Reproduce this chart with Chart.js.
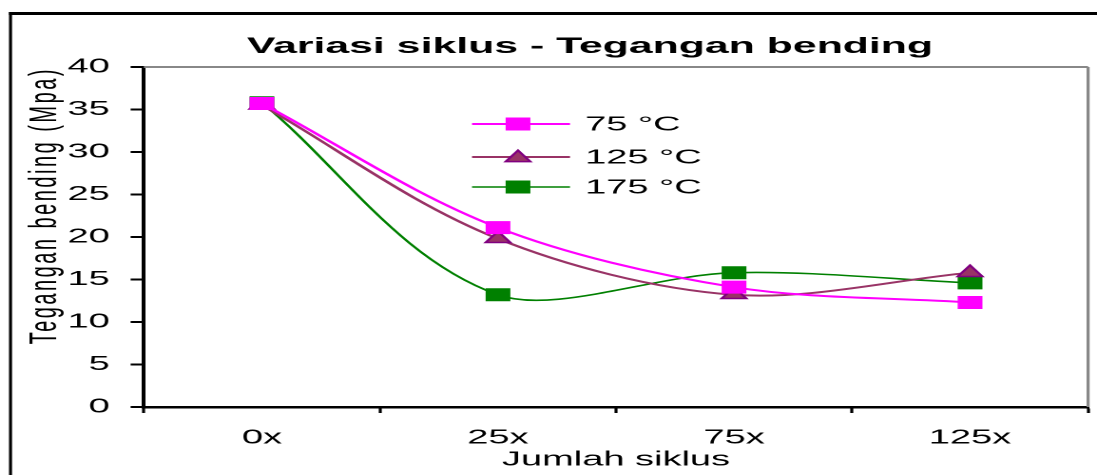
<!DOCTYPE html>
<html><head><meta charset="utf-8">
<script src="https://cdn.jsdelivr.net/npm/chart.js@4.4.1/dist/chart.umd.min.js"></script>
<style>
html,body{margin:0;padding:0;background:#fff;overflow:hidden;width:1097px;height:475px;}
#wrap{position:absolute;left:0;top:0;width:577px;height:475px;transform-origin:0 0;transform:scaleX(1.90121);}
</style></head><body>
<div id="wrap"><canvas id="c" width="577" height="475"></canvas></div>
<script>
// ---- data ----
const categories = ['0x', '25x', '75x', '125x'];
const seriesNames = ['75 °C', '125 °C', '175 °C'];
const values75 = [35.7, 21.1, 14.1, 12.3];
const values125 = [35.5, 19.8, 13.2, 15.8];
const values175 = [35.8, 13.2, 15.8, 14.6];
const yMin = 0, yMax = 40, yStep = 5;
const chartTitle = 'Variasi siklus - Tegangan bending';
const xTitle = 'Jumlah siklus';
const yTitle = 'Tegangan bending (Mpa)';

const SX = 1097 / 577;
const FONT = '"Liberation Sans", Arial, sans-serif';

const frame = {
  id: 'frame',
  beforeDraw(chart) {
    const ctx = chart.ctx;
    ctx.save();
    ctx.fillStyle = '#fff';
    ctx.fillRect(0, 0, chart.width, chart.height);
    ctx.strokeStyle = '#000';
    ctx.lineWidth = 3;
    ctx.beginPath(); ctx.moveTo(9 / SX, 13.5); ctx.lineTo(chart.width + 5, 13.5); ctx.stroke();
    ctx.lineWidth = 1.6;
    ctx.beginPath(); ctx.moveTo(10.5 / SX, 12); ctx.lineTo(10.5 / SX, chart.height + 5); ctx.stroke();
    ctx.fillStyle = '#000';
    ctx.font = 'bold 22.5px ' + FONT;
    ctx.textAlign = 'center';
    ctx.textBaseline = 'alphabetic';
    ctx.fillText(chartTitle, 590 / SX, 53);
    ctx.restore();
    const ys = chart.scales.y;
    if (ys && !ys._wrapped) {
      const orig = ys.drawTitle;
      ys.drawTitle = function () {
        const c = this.ctx; c.save(); c.letterSpacing = '2.5px'; orig.apply(this, arguments); c.restore();
      };
      ys._wrapped = true;
    }
  },
  beforeDatasetsDraw(chart) {
    const {ctx, chartArea: a} = chart;
    ctx.save();
    ctx.strokeStyle = '#888';
    ctx.lineWidth = 2;
    ctx.beginPath(); ctx.moveTo(a.left, a.top); ctx.lineTo(a.right, a.top); ctx.stroke();
    ctx.lineWidth = 1.6;
    ctx.beginPath(); ctx.moveTo(a.right, a.top); ctx.lineTo(a.right, a.bottom); ctx.stroke();
    ctx.restore();
  },
  afterDraw(chart) {
    const ctx = chart.ctx;
    const rows = [124, 157, 187];
    const x1 = 472 / SX, x2 = 570 / SX, xm = 518 / SX, xt = 585 / SX;
    ctx.save();
    chart.data.datasets.forEach((ds, i) => {
      const y = rows[i];
      ctx.strokeStyle = ds.borderColor; ctx.lineWidth = ds.borderWidth;
      ctx.beginPath(); ctx.moveTo(x1, y); ctx.lineTo(x2, y); ctx.stroke();
      const r = ds.pointRadius;
      ctx.fillStyle = ds.pointBackgroundColor; ctx.strokeStyle = ds.pointBorderColor; ctx.lineWidth = ds.pointBorderWidth;
      ctx.beginPath();
      if (ds.pointStyle === 'triangle') {
        const h = 1.5 * r, w = Math.sqrt(3) * r;
        ctx.moveTo(xm, y - h / 2 - 1); ctx.lineTo(xm + w / 2, y + h / 2 - 1); ctx.lineTo(xm - w / 2, y + h / 2 - 1); ctx.closePath();
      } else {
        const s = Math.SQRT1_2 * r;
        ctx.rect(xm - s, y - s, 2 * s, 2 * s);
      }
      ctx.fill(); ctx.stroke();
      ctx.fillStyle = '#000'; ctx.font = '20px ' + FONT; ctx.textAlign = 'left'; ctx.textBaseline = 'middle';
      ctx.fillText(ds.label, xt, y + 1);
    });
    ctx.restore();
  }
};

new Chart(document.getElementById('c'), {
  type: 'line',
  data: {
    labels: categories,
    datasets: [
      {label: seriesNames[0], data: values75, borderColor: '#FF00FF', borderWidth: 2,
       pointStyle: 'rect', pointRadius: 8.5, pointBackgroundColor: '#FF00FF', pointBorderColor: '#FF00FF', pointBorderWidth: 1},
      {label: seriesNames[1], data: values125, borderColor: '#993366', borderWidth: 2,
       pointStyle: 'triangle', pointRadius: 7.5, pointBackgroundColor: '#993366', pointBorderColor: '#800080', pointBorderWidth: 1.5},
      {label: seriesNames[2], data: values175, borderColor: '#008000', borderWidth: 1.6,
       pointStyle: 'rect', pointRadius: 8.5, pointBackgroundColor: '#008000', pointBorderColor: '#008000', pointBorderWidth: 1}
    ]
  },
  options: {
    responsive: false,
    animation: false,
    devicePixelRatio: 2,
    layout: {autoPadding: false, padding: {left: 5, right: 4.7, top: 67, bottom: 0}},
    elements: {line: {tension: 0.33}},
    plugins: {legend: {display: false}, title: {display: false}, tooltip: {enabled: false}},
    scales: {
      x: {
        type: 'category', offset: true,
        grid: {offset: true, drawOnChartArea: false, drawTicks: true, tickLength: 6, tickColor: '#000', tickWidth: 1.6},
        border: {display: true, color: '#000', width: 2.5},
        ticks: {color: '#000', font: {family: FONT, size: 20}, padding: 13, maxRotation: 0},
        title: {display: true, text: xTitle, color: '#000', font: {family: FONT, size: 20}, padding: {top: 0, bottom: 3}},
        afterFit(s) { s.height = 68; }
      },
      y: {
        min: yMin, max: yMax,
        grid: {drawOnChartArea: false, drawTicks: true, tickLength: 7, tickColor: '#000', tickWidth: 2},
        border: {display: true, color: '#000', width: 2},
        ticks: {stepSize: yStep, color: '#000', font: {family: FONT, size: 20}, padding: 11},
        title: {display: true, text: yTitle, align: 'end', color: '#000', font: {family: FONT, size: 20}, padding: {top: 7, bottom: 0}},
        afterFit(s) { s.width = 75.7 - 5; }
      }
    }
  },
  plugins: [frame]
});
</script>
</body></html>
